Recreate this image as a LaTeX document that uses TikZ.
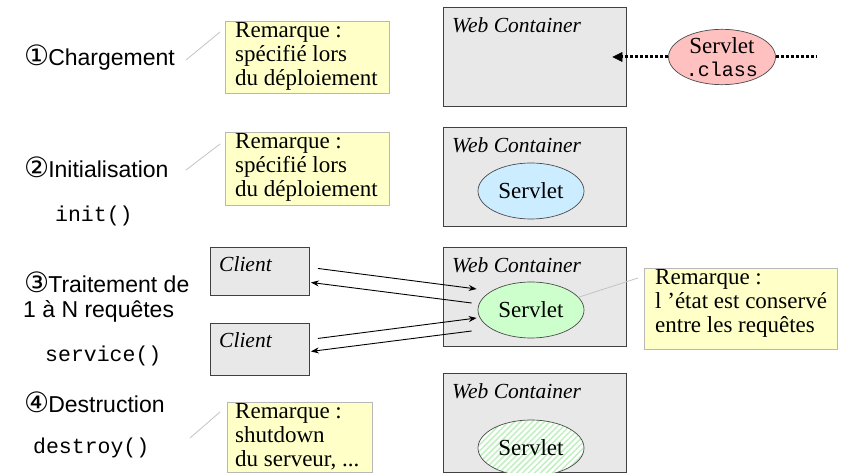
\documentclass[tikz,border=0pt]{standalone}
\usepackage{fontspec}
\setmainfont{Liberation Serif}
\setsansfont{Liberation Sans}
\setmonofont{Liberation Mono}
\newfontfamily\circfont{DejaVu Sans}
\usetikzlibrary{shapes.geometric, arrows.meta, patterns.meta, calc}
\definecolor{contfill}{HTML}{E8E8E8}
\definecolor{contdraw}{HTML}{404040}
\definecolor{remfill}{HTML}{FFFFC8}
\definecolor{remdraw}{HTML}{B8B8B8}
\definecolor{pinkfill}{HTML}{FFC0C0}
\definecolor{bluefill}{HTML}{CCECFF}
\definecolor{greenfill}{HTML}{CCFFCC}
\definecolor{hatchgreen}{HTML}{BFF0BF}
\definecolor{linegray}{HTML}{C4C4C4}
\begin{document}
\begin{tikzpicture}[x=1pt,y=-1pt,
  container/.style={draw=contdraw, line width=0.9pt, fill=contfill, minimum width=183pt, minimum height=99pt, anchor=north west, inner sep=0},
  clientbox/.style={draw=contdraw, line width=0.9pt, fill=contfill, minimum width=99pt, anchor=north west, inner sep=0},
  remark/.style={draw=remdraw, line width=0.8pt, fill=remfill, anchor=north west, inner sep=0},
  remtext/.style={anchor=north west, align=left, inner sep=0, font=\fontsize{23}{24}\selectfont},
  wclabel/.style={anchor=base west, inner sep=0, font=\itshape\fontsize{21.5}{24}\selectfont},
  servlet/.style={ellipse, draw=black!70, line width=0.7pt, minimum width=106pt, minimum height=56pt, inner sep=0, align=center, font=\fontsize{23}{23}\selectfont},
  lab/.style={anchor=base west, inner sep=0, font=\sffamily\fontsize{23}{27}\selectfont},
  code/.style={anchor=base west, inner sep=0, font=\ttfamily\fontsize{21.5}{24}\selectfont},
  remline/.style={draw=linegray, line width=0.8pt},
  msg/.style={draw=black, line width=0.9pt, -{Stealth[length=8pt,width=6pt]}},
  dotline/.style={draw=black, line width=3pt, dash pattern=on 2.8pt off 2.2pt}
]
\useasboundingbox[fill=white] (0,0) rectangle (847,473);

% left labels
\newcommand\cnum[1]{{\circfont\fontsize{28}{27}\selectfont #1}\hspace{-1pt}}
\node[lab] (l1) at (24,66) {\cnum{①}Chargement};
\node[lab] (l2) at (24,178) {\cnum{②}Initialisation};
\node[code] (l2c) at (55,222) {init()};
\node[lab] (l3) at (24,293) {\cnum{③}Traitement de};
\node[lab] (l3b) at (23,318) {1 à N requêtes};
\node[code] (l3c) at (45,362) {service()};
\node[lab] (l4) at (24,413) {\cnum{④}Destruction};
\node[code] (l4c) at (33,453) {destroy()};

% remarks
\node[remark, minimum width=164pt, minimum height=72pt] (r1) at (225,21) {};
\node[remtext] (r1t) at ($(r1.north west)+(10,1)$) {Remarque :\\spécifié lors\\du déploiement};
\node[remark, minimum width=164pt, minimum height=73pt] (r2) at (225,132) {};
\node[remtext] (r2t) at ($(r2.north west)+(10,1)$) {Remarque :\\spécifié lors\\du déploiement};
\node[remark, minimum width=193pt, minimum height=81pt] (r3) at (644,268) {};
\node[remtext] (r3t) at ($(r3.north west)+(11,1)$) {Remarque :\\l ’état est conservé\\entre les requêtes};
\node[remark, minimum width=145pt, minimum height=70pt] (r4) at (227,402) {};
\node[remtext] (r4t) at ($(r4.north west)+(8,1)$) {Remarque :\\shutdown\\du serveur, ...};

\coordinate (a1) at (186,60); \coordinate (b1) at (220,32);
\coordinate (a2) at (186,170); \coordinate (b2) at (220,144);
\coordinate (a4) at (190,438); \coordinate (b4) at (220,412);
\coordinate (b3) at (638,278);
\draw[remline] (a1) -- (b1);
\draw[remline] (a2) -- (b2);
\draw[remline] (a4) -- (b4);

% web containers
\node[container] (w1) at (443,7) {};
\node[container] (w2) at (443,127) {};
\node[container] (w3) at (443,247) {};
\node[container] (w4) at (443,373) {};
\foreach \w in {w1,w2,w3,w4}
  \node[wclabel] (\w t) at ($(\w.north west)+(9,26)$) {Web Container};

% clients
\node[clientbox, minimum height=48pt] (c1) at (210,247) {};
\node[clientbox, minimum height=52pt] (c2) at (210,323) {};
\node[wclabel] (c1t) at ($(c1.north west)+(9,25)$) {Client};
\node[wclabel] (c2t) at ($(c2.north west)+(9,25)$) {Client};

% servlets
\node[servlet, fill=pinkfill, minimum width=107pt, minimum height=55pt] (s1) at (722,57) {Servlet\\{\ttfamily\fontsize{20}{23}\selectfont .class}};
\node[servlet, fill=bluefill] (s2) at (531,191) {Servlet};
\node[servlet, fill=greenfill] (s3) at (531,310) {Servlet};
\node[servlet, preaction={fill=white}, pattern={Lines[angle=45,distance=4.2pt,line width=1.5pt]}, pattern color=hatchgreen] (s4) at (531,448) {Servlet};

\draw[remline] (s3.15) -- (b3);

% loading
\coordinate (tipL) at (613,57);
\coordinate (endR) at (817,57);
\draw[dotline] (s1.west) -- ($(tipL)+(7,0)$);
\draw[draw=black, fill=black, line width=0.5pt] (tipL) -- ++(9,-4.5) -- ++(0,9) -- cycle;
\draw[dotline] (s1.east) -- (endR);

% requests
\draw[msg] ($(c1.east)+(8,-3)$) -- ($(s3.west)+(-1,-21)$);
\draw[msg] ($(s3.west)+(-6,-7)$) -- ($(c1.east)+(1,11)$);
\draw[msg] ($(c2.east)+(8,-11)$) -- ($(s3.west)+(-1,8)$);
\draw[msg] ($(s3.west)+(-6,21)$) -- ($(c2.east)+(1,2)$);
\end{tikzpicture}
\end{document}
